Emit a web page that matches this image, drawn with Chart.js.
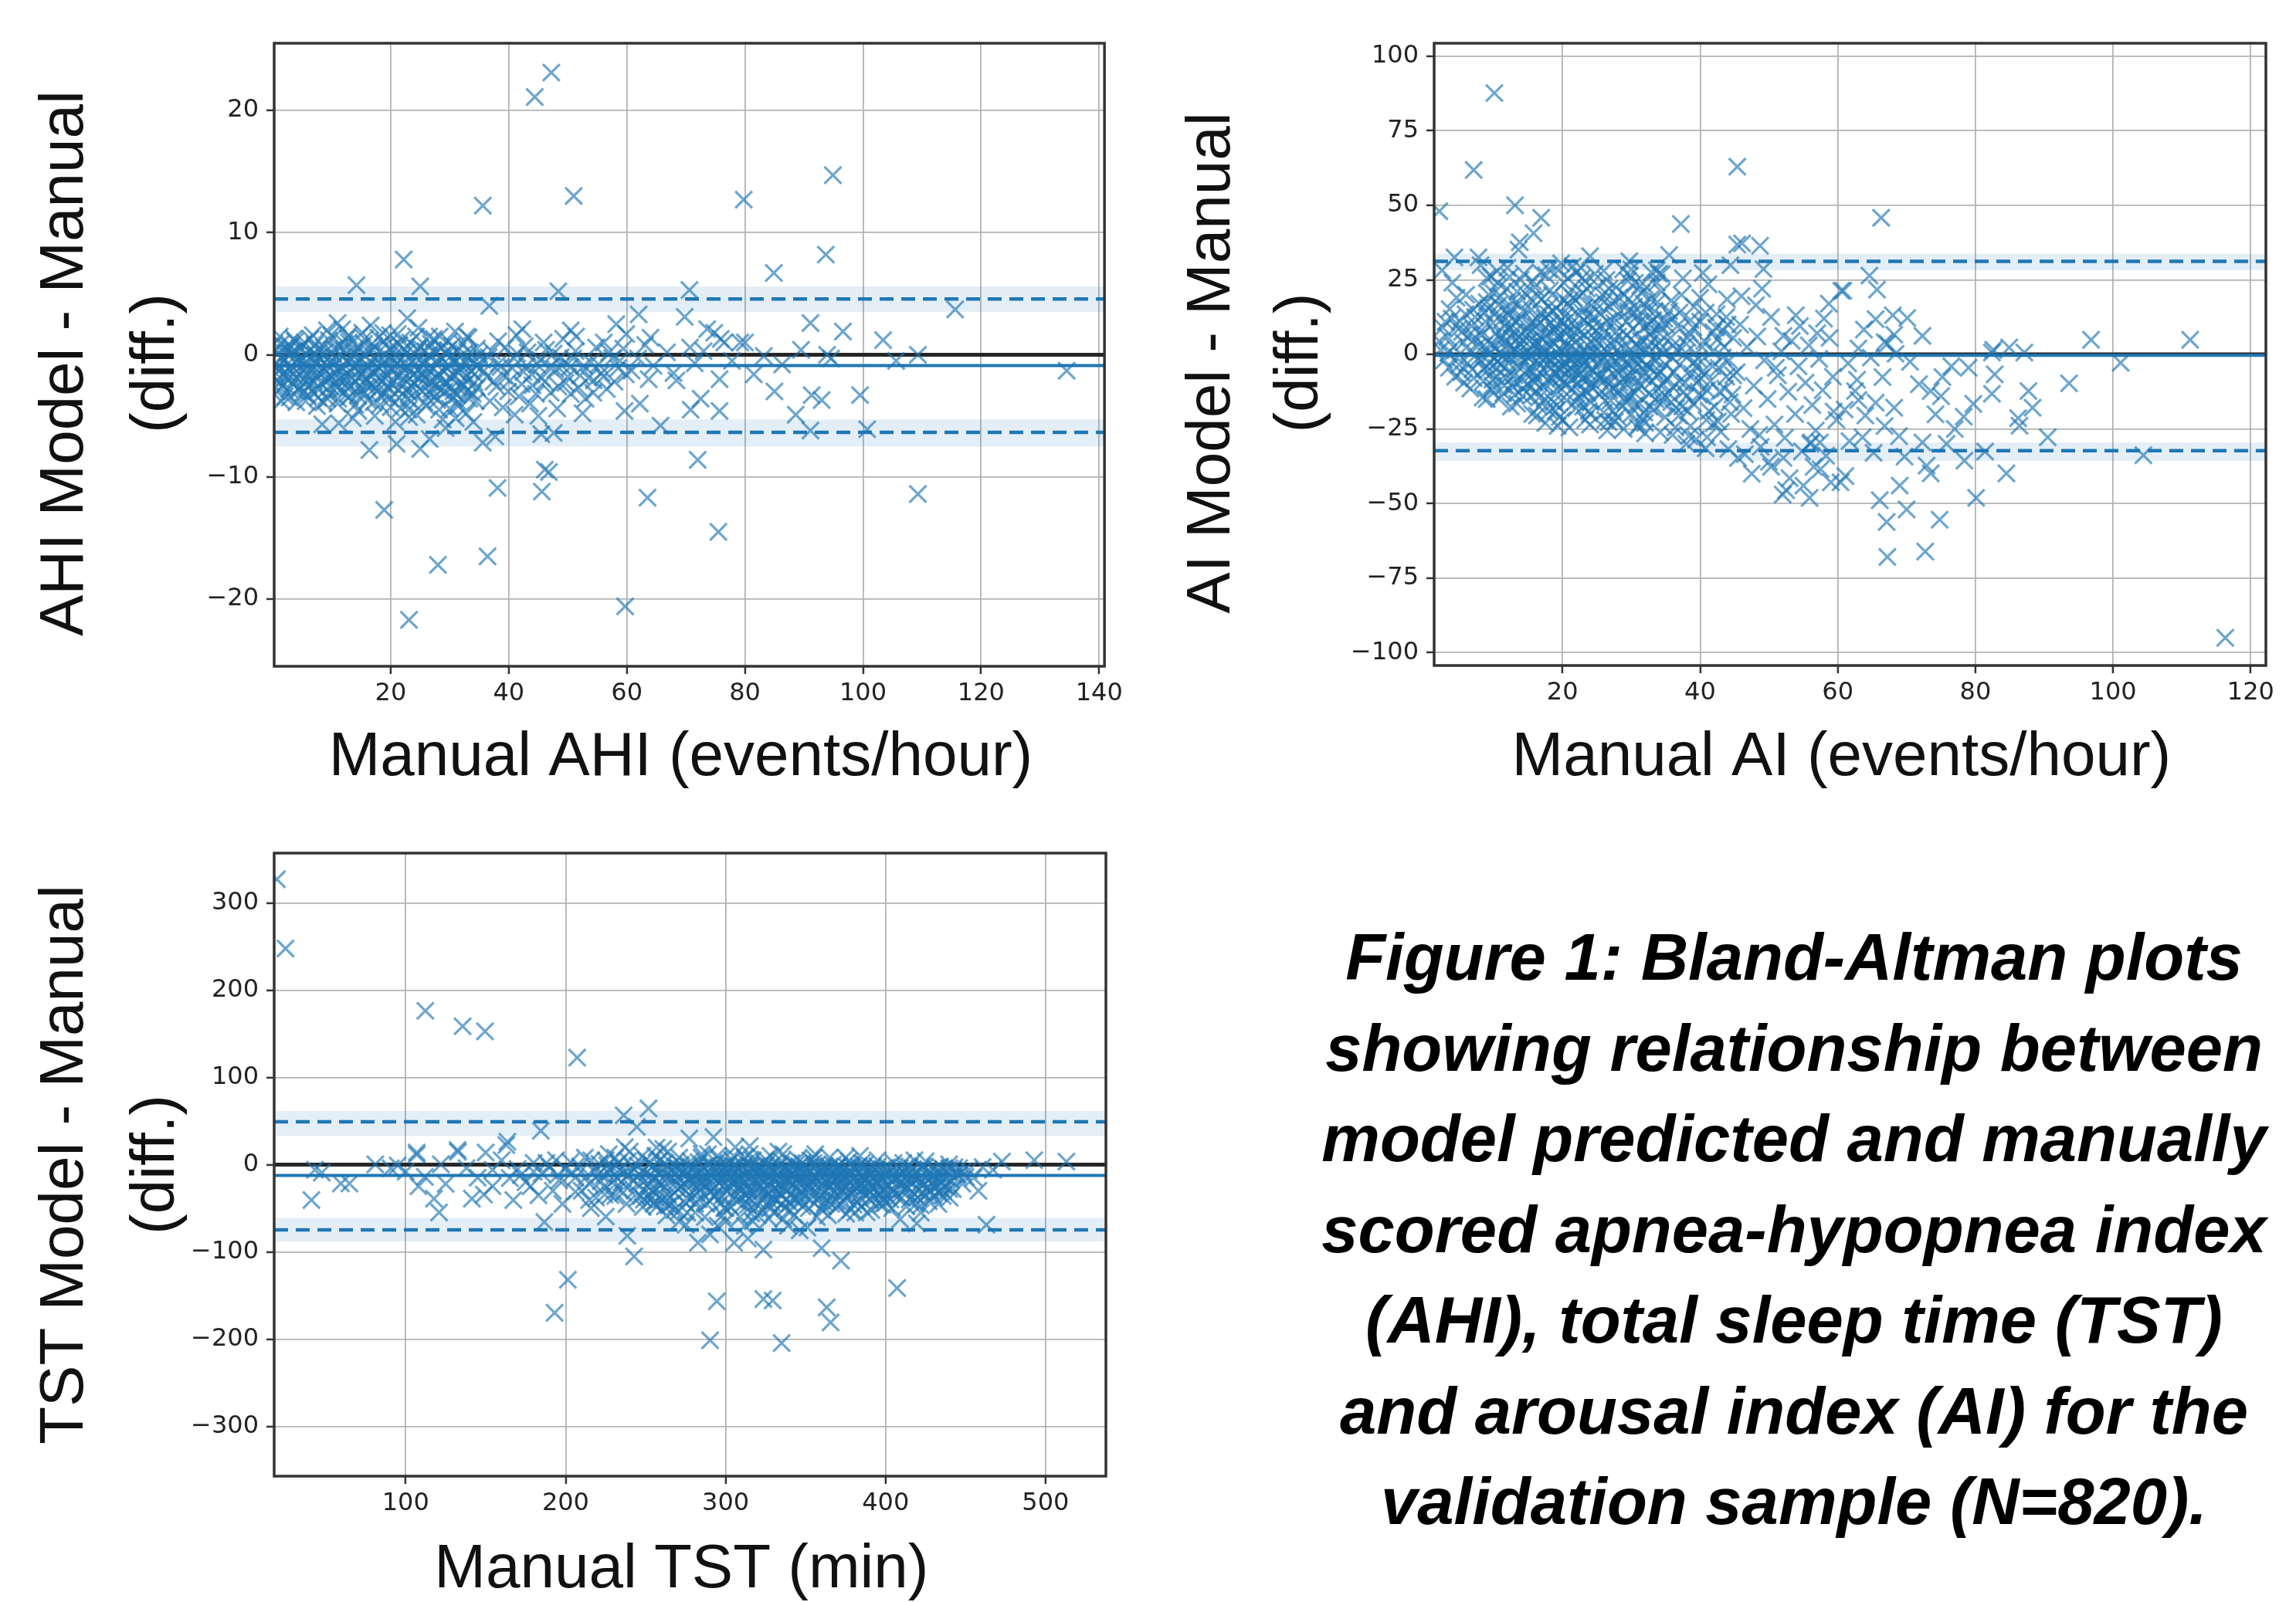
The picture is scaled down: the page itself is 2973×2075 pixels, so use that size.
<!DOCTYPE html>
<html>
<head>
<meta charset="utf-8">
<script src="https://cdn.jsdelivr.net/npm/chart.js@4.4.1/dist/chart.umd.min.js"></script>
<style>
  html, body { margin: 0; padding: 0; background: #fff; overflow: hidden; }
  body { width: 2973px; height: 2075px; position: relative; }
  .panel { position: absolute; }
  #caption {
    position: absolute; left: 1673px; top: 1181px; width: 1300px;
    text-align: center; color: #000;
    font: italic bold 85px/117.5px "Liberation Sans", Arial, sans-serif;
  }
</style>
</head>
<body>
<div class="panel" style="left:0;top:0;width:1460px;height:1050px"><canvas id="ahi"></canvas></div>
<div class="panel" style="left:1460px;top:0;width:1513px;height:1050px"><canvas id="ai"></canvas></div>
<div class="panel" style="left:0;top:1050px;width:1460px;height:1025px"><canvas id="tst"></canvas></div>
<div id="caption">Figure 1: Bland-Altman plots<br>showing relationship between<br>model predicted and manually<br>scored apnea-hypopnea index<br>(AHI), total sleep time (TST)<br>and arousal index (AI) for the<br>validation sample (N=820).</div>
<script>
// ---- AHI panel ----
const ahiXTicks = [20, 40, 60, 80, 100, 120, 140];
const ahiYTicks = [-20, -10, 0, 10, 20];
const ahiXRange = [0.26, 140.9];
const ahiYRange = [-25.5, 25.5];
const ahiLimits = [-6.35, -0.88, 4.56];      // lower LoA, mean diff, upper LoA
const ahiBands = [[-7.5, -5.3], [3.5, 5.6]];
const ahiPoints = [
  [47.2,23.1],[44.4,21.1],[35.6,12.2],[51.0,13.0],[79.8,12.7],[94.9,14.7],[22.2,7.8],[14.2,5.7],[25.0,5.6],[48.4,5.2],
  [70.6,5.3],[84.9,6.7],[93.7,8.2],[36.7,4.0],[115.6,3.7],[11.0,2.6],[22.8,3.0],[12.9,1.6],[19.9,1.6],[26.5,1.5],
  [33.2,1.4],[42.3,2.1],[50.5,2.0],[51.4,1.5],[58.2,2.5],[62.0,3.3],[59.9,1.7],[64.0,1.4],[69.8,3.1],[73.6,2.1],
  [74.8,1.8],[80.0,1.0],[76.5,1.0],[70.7,0.6],[42.7,0.7],[63.1,0.8],[91.1,2.6],[96.6,1.9],[103.4,1.2],[75.9,1.3],
  [79.2,1.0],[83.2,-0.1],[109.3,0],[93.9,0],[94.6,-0.3],[105.6,-0.5],[134.5,-1.3],[75.7,-2.0],[85.0,-3.0],[91.3,-3.3],
  [93.0,-3.7],[99.5,-3.3],[88.6,-4.9],[91.1,-6.2],[100.7,-6.1],[75.7,-4.6],[72.0,-8.6],[109.3,-11.4],[75.5,-14.5],[8.4,-5.7],
  [11.2,-5.6],[16.4,-7.8],[21.0,-7.3],[25.0,-7.7],[26.6,-6.9],[23.1,-5.1],[35.6,-7.2],[37.7,-6.7],[41.0,-4.9],[45.5,-6.5],
  [47.6,-6.4],[46.1,-9.4],[46.8,-9.6],[45.6,-11.2],[38.1,-10.9],[18.9,-12.7],[28.0,-17.2],[36.4,-16.5],[23.1,-21.7],[59.7,-20.6],
  [63.5,-11.7],[59.6,-4.6],[62.2,-4.0],[65.7,-5.8],[70.8,-4.5],[72.5,-3.6],[50.5,-3.2],[54.4,-2.1],[68.4,-2.1],[63.7,-2.0],
  [0.6,0.4],[1.4,0.9],[2.3,0.2],[3.1,0.7],[3.9,-0.1],[4.6,0.5],[5.4,1.0],[6.2,0.3],[7.1,0.8],[7.8,-0.2],
  [8.7,0.6],[9.5,1.2],[10.3,0.1],[11.2,0.7],[12.1,0.4],[12.9,1.0],[13.8,-0.1],[14.6,0.6],[15.5,0.9],[16.3,0.2],
  [17.2,0.7],[18.1,0.3],[18.9,1.1],[19.8,0.5],[20.7,0.0],[21.5,0.8],[22.4,0.4],[23.3,1.0],[24.1,0.1],[25.0,0.6],
  [25.9,0.3],[26.8,0.9],[27.7,0.2],[28.6,0.6],[29.5,0.0],[30.4,0.7],[31.3,0.3],[32.2,0.9],[33.4,0.2],[34.6,0.5],
  [0.4,-0.7],[1.1,-1.3],[1.9,-0.5],[2.7,-1.1],[3.5,-1.6],[4.2,-0.8],[5.0,-1.4],[5.8,-0.6],[6.6,-1.2],[7.4,-1.7],
  [8.2,-0.9],[9.0,-1.3],[9.9,-0.6],[10.7,-1.5],[11.6,-1.0],[12.5,-0.5],[13.3,-1.4],[14.2,-0.8],[15.1,-1.6],[15.9,-1.1],
  [16.8,-0.6],[17.6,-1.3],[18.5,-0.9],[19.4,-1.7],[20.2,-1.2],[21.1,-0.7],[22.0,-1.5],[22.8,-1.0],[23.7,-0.5],[24.6,-1.3],
  [25.5,-0.8],[26.3,-1.6],[27.2,-1.1],[28.1,-0.6],[29.0,-1.4],[29.9,-0.9],[30.8,-1.7],[31.7,-1.1],[32.6,-0.6],[33.6,-1.3],
  [34.7,-0.9],[0.8,-2.1],[1.7,-2.6],[2.6,-1.9],[3.4,-2.4],[4.4,-2.9],[5.3,-2.0],[6.1,-2.5],[7.0,-2.2],[7.9,-2.8],
  [8.9,-2.0],[9.7,-2.6],[10.6,-2.3],[11.5,-2.9],[12.4,-2.1],[13.2,-2.6],[14.1,-2.2],[15.0,-2.8],[15.8,-2.0],[16.7,-2.5],
  [17.7,-3.0],[18.6,-2.2],[19.5,-2.7],[20.4,-2.1],[21.3,-2.9],[22.2,-2.4],[23.1,-3.1],[24.0,-2.3],[24.9,-2.8],[25.8,-2.0],
  [26.7,-3.2],[27.6,-2.5],[28.5,-2.9],[29.4,-2.2],[30.3,-2.7],[31.2,-3.3],[32.1,-2.4],[33.1,-2.9],[34.2,-2.3],
  [2.1,-3.4],[4.0,-3.9],[5.9,-3.3],[7.5,-4.2],[9.3,-3.6],[11.0,-4.0],[12.8,-3.5],[14.5,-4.6],[16.1,-3.7],[17.3,-5.0],
  [18.2,-4.1],[19.9,-3.6],[21.7,-4.4],[23.5,-3.8],[24.4,-4.9],[26.0,-4.2],[27.9,-3.7],[28.8,-5.3],[30.0,-4.4],[31.5,-3.9],
  [32.8,-4.8],[34.0,-5.5],[13.6,-5.2],[20.8,-5.5],[29.3,-6.0],[31.0,-5.2],
  [1.2,1.5],[3.6,1.3],[6.8,1.6],[9.2,2.0],[15.2,1.8],[17.9,1.4],[21.2,1.7],[24.7,2.2],[28.3,1.5],[30.9,1.9],[16.6,2.4],[11.8,2.1],
  [35.5,-0.4],[36.3,-1.8],[37.1,0.3],[37.9,-2.6],[38.6,-1.0],[39.4,0.6],[40.2,-2.1],[40.9,-0.3],[41.7,-3.4],[42.5,-1.4],
  [43.2,0.2],[44.0,-2.5],[44.8,-0.8],[45.6,-1.9],[46.3,0.4],[47.1,-3.1],[47.9,-1.2],[48.8,-0.2],[49.6,-2.3],[50.4,-1.0],
  [51.3,0.3],[52.1,-1.7],[53.0,-3.6],[53.9,-0.6],[54.8,0.6],[55.7,-1.5],[56.6,-2.8],[57.5,-0.3],[58.5,-1.1],[59.4,0.5],
  [36.8,-3.8],[39.0,-4.3],[43.6,-4.0],[45.0,-5.0],[48.2,-4.4],[52.5,-4.8],[38.2,1.1],[41.3,1.6],[45.9,1.0],[49.2,1.3],[56.1,1.0],
  [60.8,-1.3],[61.9,-0.3],[64.5,-0.9],[66.8,0.2],[67.9,-1.5],[71.5,-0.7],[73.0,0.3],[77.8,-0.5],[81.5,-1.6],[86.3,-0.8],[89.5,0.4],
  [0.5,-1.5],[0.9,0.1],[1.3,-2.3],[1.6,-0.3],[2.0,-1.8],[2.4,0.6],[2.8,-2.8],[3.2,-0.9],[3.6,0.3],[4.0,-1.9],
  [4.3,-0.4],[4.7,-2.6],[5.1,0.8],[5.5,-1.1],[5.9,-2.1],[6.3,-0.2],[6.7,-3.0],[7.2,-0.7],[7.6,0.4],[8.0,-1.5],
  [8.4,-2.4],[8.8,0.2],[9.2,-0.8],[9.6,-3.1],[10.0,-1.8],[10.4,0.5],[10.8,-0.3],[11.3,-2.0],[11.7,-1.3],[12.2,0.9],
  [12.6,-2.7],[13.0,-0.6],[13.5,-1.9],[13.9,0.3],[14.4,-3.3],[14.8,-1.2],[15.2,0.1],[15.7,-2.3],[16.1,-0.9],[16.5,-1.7],
  [17.0,0.4],[17.4,-2.7],[17.9,-0.4],[18.3,-1.9],[18.8,-3.2],[19.2,0.0],[19.6,-1.0],[20.1,-2.4],[20.5,0.7],[21.0,-1.6],
  [21.4,-3.5],[21.9,-0.3],[22.3,-2.0],[22.7,0.2],[23.2,-1.4],[23.6,-2.6],[24.0,-0.8],[24.5,0.5],[24.9,-1.9],[25.4,-3.0],
  [25.8,-0.5],[26.2,-1.2],[26.7,-2.2],[27.1,0.3],[27.5,-3.4],[28.0,-1.6],[28.4,-0.2],[28.9,-2.3],[29.3,-1.0],[29.7,0.4],
  [30.2,-1.9],[30.6,-3.0],[31.0,-0.5],[31.5,-1.5],[31.9,-2.6],[32.4,0.1],[32.8,-1.8],[33.3,-3.6],[33.7,-0.4],[34.2,-1.6],
  [34.6,-2.7],[35.0,0.0],[0.7,-3.0],[1.5,-3.8],[2.9,-3.5],[3.8,1.1],[5.6,-3.8],[6.4,1.3],[8.6,-3.9],[9.9,1.6],
  [11.1,-3.6],[12.7,1.4],[14.0,-4.1],[15.6,1.3],[17.1,-3.9],[18.7,1.8],[20.0,-4.3],[21.8,1.2],[23.0,-4.5],[24.3,1.5],
  [25.7,-3.9],[27.3,1.3],[28.2,-4.5],[29.8,1.1],[31.4,-4.2],[32.9,1.5],[34.4,-3.8],[0.3,0.9],[1.0,-0.9],[2.2,-1.4],
  [3.0,0.1],[4.9,-0.5],[6.0,-1.6],[7.3,0.0],[8.1,-0.4],[9.4,-1.9],[10.2,-0.9],[11.9,-0.2],[12.3,-1.8],[13.6,-1.0],
  [14.9,-0.3],[16.0,-2.6],[16.9,-1.4],[18.0,-1.1],[19.0,-0.5],[20.3,-0.4],[21.6,-0.9],[22.6,-2.9],[23.9,-1.6],[25.2,-1.5],
  [26.5,-0.1],[27.9,-1.9],[29.1,-3.0],[30.0,-0.2],[31.8,-0.8],[33.0,-2.2],[34.0,-0.7],[5.2,-3.1],[7.7,-3.5],[10.9,-2.7],
  [13.1,-3.4],[15.4,-3.2],[19.3,-3.1],[22.9,-3.6],[26.9,-2.8],[30.5,-3.5],[33.9,-3.2],
  [35.8,-1.3],[36.6,-0.2],[37.4,-2.2],[38.3,-0.7],[39.1,-1.7],[39.9,-3.0],[40.6,-1.1],[41.4,0.1],[42.2,-2.4],[43.0,-0.9],
  [43.9,-1.6],[44.6,-3.2],[45.3,-0.4],[46.1,-2.2],[46.9,-1.0],[47.6,0.1],[48.4,-2.6],[49.0,-0.9],[50.0,-1.8],[50.9,-0.3],
  [51.8,-2.7],[52.7,-0.9],[53.5,-1.9],[54.3,-3.1],[55.2,-0.8],[56.0,-1.8],[57.0,0.2],[57.9,-2.2],[58.8,-0.5],[59.8,-1.6]
];

// ---- AI panel ----
const aiXTicks = [20, 40, 60, 80, 100, 120];
const aiYTicks = [-100, -75, -50, -25, 0, 25, 50, 75, 100];
const aiXRange = [1.35, 122.2];
const aiYRange = [-104.3, 104.3];
const aiLimits = [-32.3, -0.3, 31.2];
const aiBands = [[-35.7, -29.6], [28.2, 33.8]];
const aiPoints = [
  [10.1,87.6],[7.1,61.8],[45.4,62.9],[2.1,48.0],[13.1,50.0],[16.9,45.8],[15.8,40.6],[13.8,37.6],[13.6,35.1],[37.2,43.7],
  [45.4,36.8],[46.1,37.2],[48.7,36.4],[35.5,33.3],[24.0,32.9],[7.8,32.5],[4.3,32.5],[2.5,28.2],[8.1,29.9],[9.0,25.6],
  [49.2,28.6],[44.4,29.9],[29.7,31.2],[33.7,28.2],[40.4,27.3],[60.5,21.3],[58.7,17.0],[48.1,16.5],[53.9,13.1],[52.1,6.2],
  [57.0,7.1],[3.6,15.2],[3.0,10.9],[5.4,7.5],[2.1,4.5],[12.3,26.0],[19.4,28.2],[23.3,24.7],[29.5,24.7],[31.3,23.0],[34.4,26.9],
  [55.9,-48.1],[52.5,-45.5],[50.3,-37.7],[45.5,-34.7],[52.1,-34.7],[56.5,-37.7],[59.0,-42.9],[44.1,-31.7],[38.4,-27.4],[34.2,-26.1],
  [30.9,-24.4],[26.7,-22.7],[41.0,-27.8],[56.1,-29.5],[57.4,-29.5],[48.6,-27.0],[59.4,-19.2],
  [96.8,4.9],[111.2,4.9],[101.1,-2.8],[93.6,-9.7],[87.7,-12.3],[88.3,-17.9],[86.2,-21.4],[86.4,-23.9],[90.5,-27.8],[82.4,-13.2],
  [82.8,-6.7],[84.9,2.3],[87.1,0.6],[82.4,0.6],[104.4,-33.8],[116.3,-95.0],[81.4,-32.6],[80.1,-48.1],[84.5,-39.9],[78.4,-35.6],
  [79.7,-16.6],[78.3,-20.9],[75.2,-7.6],[75.0,-14.0],[74.2,-20.1],[73.5,-12.3],[72.3,-29.5],[72.9,-37.3],[73.5,-39.9],[74.8,-55.4],
  [72.7,-66.1],[67.2,-67.9],[67.1,-56.2],[66.1,-48.9],[69.7,-34.3],[68.9,-27.4],[68.2,-17.9],[66.5,-7.6],[65.5,-16.2],[63.6,-27.8],
  [61.7,-29.1],[63.0,-15.3],[62.5,-12.3],[61.1,-40.8],[60.4,-42.9],[64.8,-1.1],[68.4,0.2],[72.3,6.2],[66.8,4.1],[68.2,6.6],
  [66.3,45.8],[64.6,26.4],[65.7,21.7],[60.8,21.3],[65.5,11.8],[68.0,13.1],[70.1,12.2],[63.8,8.3],[67.2,3.6],[82.6,1.5],
  [2.3,1.5],[2.8,-2.0],[3.2,6.0],[3.5,-4.5],[3.9,12.0],[4.2,2.5],[4.6,-1.0],[4.9,8.5],[5.3,-6.0],[5.6,4.0],
  [5.9,13.5],[6.2,-3.0],[6.5,1.0],[6.8,9.5],[7.1,-8.0],[7.4,5.5],[7.7,-1.5],[7.9,17.0],[2.6,9.0],[3.4,0.5],
  [4.4,-7.5],[5.1,11.0],[6.0,20.0],[6.9,-5.0],[7.6,2.5],[5.7,-9.5],[4.0,24.0],[7.3,12.5],
  [8.1,-2.0],[8.3,6.5],[8.5,-9.0],[8.7,14.0],[8.9,1.0],[9.1,-5.5],[9.3,20.0],[9.5,3.5],[9.7,-12.0],[9.9,10.5],
  [10.1,-1.0],[10.3,7.0],[10.5,-7.5],[10.7,16.5],[10.9,0.5],[11.1,-3.5],[11.3,12.0],[11.5,-10.5],[11.7,4.5],[11.9,22.0],
  [12.1,-6.0],[12.3,8.5],[12.5,-1.5],[12.7,18.0],[12.9,2.0],[13.1,-13.5],[13.3,11.0],[13.5,-4.0],[13.7,6.0],[13.9,25.0],
  [14.1,-8.5],[14.3,14.5],[14.5,0.0],[14.7,-2.5],[14.9,9.0],[8.4,-14.5],[9.6,26.0],[10.8,-15.0],[12.0,29.0],[13.4,-16.5],
  [14.6,20.5],[8.8,11.0],[10.2,2.5],[11.4,-0.5],[12.6,5.5],[13.8,-0.5],[9.4,-3.0],[11.0,19.5],[12.2,13.0],[14.0,3.5],
  [13.0,-9.5],[10.6,24.0],[11.8,-8.0],
  [15.1,-5.0],[15.2,7.5],[15.4,-14.0],[15.5,15.0],[15.7,1.5],[15.8,-9.0],[16.0,22.5],[16.1,4.0],[16.3,-2.0],[16.4,11.5],
  [16.6,-17.5],[16.7,6.0],[16.9,-6.5],[17.0,18.5],[17.2,0.5],[17.3,-11.0],[17.5,9.0],[17.6,26.5],[17.8,-3.5],[17.9,13.5],
  [18.1,-19.0],[18.2,3.0],[18.4,-8.0],[18.5,20.0],[18.7,-0.5],[18.8,8.0],[19.0,-13.5],[19.1,15.5],[19.3,-4.5],[19.4,5.5],
  [19.6,-21.0],[19.7,11.0],[19.9,1.0],[20.0,-9.5],[20.2,24.0],[20.3,-2.5],[20.5,7.0],[20.6,-15.5],[20.8,17.0],[20.9,-6.0],
  [21.1,2.5],[21.2,12.5],[21.4,-11.5],[21.5,29.5],[21.7,-1.0],[21.8,9.5],[22.0,-18.0],[22.1,4.5],[22.3,-7.0],[22.4,19.5],
  [22.6,0.0],[22.7,-13.0],[22.9,14.0],[23.0,-3.0],[23.2,6.5],[23.3,-22.0],[23.5,22.0],[23.6,-8.5],[23.8,10.0],[23.9,-0.5],
  [24.1,-16.0],[24.2,16.5],[24.4,3.5],[24.5,-5.5],[24.7,27.0],[24.8,-10.5],[15.3,-0.5],[15.9,3.0],[16.5,-3.0],[17.1,5.0],
  [17.7,-1.0],[18.3,10.5],[18.9,-6.5],[19.5,2.0],[20.1,-4.0],[20.7,9.0],[21.3,-8.5],[21.9,1.5],[22.5,-4.5],[23.1,11.5],
  [23.7,3.0],[24.3,-2.0],[24.9,8.0],[16.2,-12.5],[17.4,-15.0],[19.2,-17.0],[20.4,13.0],[21.6,-3.5],[22.2,-10.0],[23.4,-12.0],
  [24.6,5.5],[16.8,27.5],[19.8,30.5],[22.8,25.5],[18.0,16.0],[20.9,20.5],[23.8,-19.0],[15.6,-20.0],[17.5,-23.0],[21.0,-24.5],
  [24.0,-23.5],[18.6,-9.0],[19.9,-1.5],[21.4,5.0],[22.9,-2.0],
  [25.1,-7.0],[25.2,4.0],[25.4,-13.5],[25.5,13.5],[25.7,-1.5],[25.8,20.0],[26.0,-19.5],[26.1,7.5],[26.3,-4.0],[26.4,25.0],
  [26.6,0.5],[26.7,-10.0],[26.9,16.0],[27.0,-15.5],[27.2,3.0],[27.3,-6.5],[27.5,10.5],[27.6,-22.5],[27.8,22.5],[27.9,-2.5],
  [28.1,6.0],[28.2,-12.0],[28.4,14.5],[28.5,-0.5],[28.7,-17.5],[28.8,28.5],[29.0,2.0],[29.1,-8.0],[29.3,11.0],[29.4,-3.5],
  [29.6,18.5],[29.7,-14.0],[29.9,5.0],[30.0,-20.0],[30.2,8.5],[30.3,-5.0],[30.5,24.0],[30.6,0.0],[30.8,-11.0],[30.9,13.0],
  [31.1,-1.5],[31.2,-16.5],[31.4,4.5],[31.5,20.5],[31.7,-7.5],[31.8,9.0],[32.0,-23.0],[32.1,1.5],[32.3,15.5],[32.4,-4.0],
  [32.6,-13.0],[32.7,6.5],[32.9,27.5],[33.0,-9.0],[33.2,11.5],[33.3,-18.5],[33.5,2.5],[33.6,-2.0],[33.8,17.5],[33.9,-11.5],
  [34.1,7.0],[34.2,-6.0],[34.4,21.0],[34.5,-14.5],[34.7,0.5],[34.8,12.0],[25.6,9.5],[26.2,-8.5],[27.4,18.0],[28.0,-6.0],
  [28.9,-25.0],[29.5,-10.0],[30.4,16.0],[31.0,-3.0],[31.9,-19.5],[32.5,10.0],[33.4,-5.5],[34.0,4.0],[34.9,-21.0],[26.5,-25.5],
  [29.8,26.5],[32.2,22.5],[27.1,-1.0],[30.7,3.5],
  [35.2,-8.0],[35.5,14.5],[35.8,-16.0],[36.1,3.0],[36.4,-24.5],[36.7,9.5],[37.0,-3.5],[37.3,20.0],[37.6,-12.5],[37.9,0.5],
  [38.2,-19.0],[38.5,7.0],[38.8,-6.5],[39.1,16.0],[39.4,-28.5],[39.7,-1.5],[40.0,11.0],[40.3,-14.0],[40.6,4.5],[40.9,-22.0],
  [41.2,23.5],[41.5,-9.0],[41.8,1.0],[42.1,-17.5],[42.4,13.5],[42.7,-4.5],[43.0,-26.0],[43.3,8.0],[43.6,-11.5],[43.9,18.5],
  [44.2,-2.0],[44.5,-20.0],[44.8,5.5],[36.0,-11.0],[37.5,25.5],[38.0,-30.0],[39.5,-9.5],[40.8,-31.5],[42.0,-23.0],[43.5,2.5],
  [44.7,-13.5],[35.7,5.5],[38.9,-3.0],[41.9,7.5],[36.9,-20.5],[40.5,-5.5],[43.8,-7.5],
  [45.3,-6.0],[45.8,10.0],[46.3,-18.0],[46.8,2.5],[47.3,-25.0],[47.8,-10.5],[48.3,6.0],[48.8,-31.0],[49.3,-2.0],[49.8,-15.0],
  [50.3,12.5],[50.8,-23.5],[51.3,-7.0],[51.8,1.0],[52.3,-28.0],[52.8,-12.5],[53.3,4.5],[53.8,-20.0],[54.3,-4.0],[54.8,-32.5],
  [55.3,-9.5],[55.8,3.0],[56.3,-17.0],[56.8,-25.5],[57.3,-1.5],[57.8,-12.0],[58.3,-34.0],[58.8,5.5],[59.3,-7.5],[59.8,-22.0],
  [46.0,19.5],[47.5,-40.0],[50.0,-36.0],[53.0,-41.5],[55.0,-44.0],[57.5,-38.5],[49.0,22.0],[54.5,9.5],[58.0,12.0],[52.0,-47.0],
  [46.5,-33.5],[51.0,-4.5],[56.0,-30.0],
  [61.5,-3.0],[62.8,-8.5],[64.0,-20.5],[65.2,-33.0],[66.8,-24.0],[70.5,-2.5],[71.8,-10.0],[76.5,-4.0],[77.0,-25.0],[69.0,-44.0],
  [63.0,2.0],[70.0,-52.0],[61.0,-18.5],[75.8,-30.0],[79.0,-4.5],
  [9.2,15.5],[10.4,-4.5],[11.6,9.5],[12.8,-11.0],[13.6,17.0],[14.8,-5.5],[15.4,10.5],[16.1,-7.5],[16.9,14.0],[17.6,-1.5],
  [18.2,21.5],[18.9,3.5],[19.6,-11.0],[20.3,18.0],[21.0,-5.0],[21.7,7.5],[22.4,-14.5],[23.1,15.5],[23.9,-6.5],[24.6,12.5],
  [25.3,-3.0],[26.0,17.5],[26.8,-12.0],[27.5,5.0],[28.3,-9.5],[29.0,20.0],[29.8,-1.0],[30.5,-13.0],[31.3,11.0],[32.0,-6.0],
  [32.8,18.5],[33.5,-15.0],[34.3,9.5],[35.0,-3.5],[36.0,12.0],[37.0,-9.0],[38.0,3.5],[39.0,-16.5],[40.0,19.0],[12.4,15.0],
  [14.2,-14.0],[16.4,19.5],[18.7,-16.0],[20.8,25.5],[23.0,-17.5],[25.2,23.0],[27.3,-19.0],[29.5,14.5],[31.6,-21.5],[33.7,24.0],
  [10.0,20.5],[8.6,3.0],[9.8,-8.5],[11.2,6.5],[13.2,1.5],[15.0,-10.0],[17.2,2.0],[19.0,9.0],[21.2,-1.5],[23.5,0.5],
  [25.8,-6.5],[28.0,1.5],[30.2,-7.0],[32.4,3.0],[34.6,-10.0],[15.7,24.5],[19.3,-24.0],[22.7,29.0],[26.2,-22.0],[29.2,-16.0],
  [36.5,-18.0],[38.6,11.5],[41.0,-12.0],[42.5,5.0],[44.0,10.0],
  [8.2,8.0],[8.6,-5.0],[9.0,17.5],[9.4,0.0],[9.8,-10.5],[10.2,13.5],[10.6,-2.5],[11.0,5.0],[11.4,-13.0],[11.8,15.0],
  [12.2,-3.0],[12.6,10.0],[13.0,-7.0],[13.4,21.0],[13.8,3.5],[14.2,-11.5],[14.6,7.5],[15.0,-1.0],[15.4,18.5],[15.8,-6.0],
  [16.2,9.5],[16.6,-14.5],[17.0,2.5],[17.4,12.0],[17.8,-8.5],[18.2,-2.0],[18.6,14.5],[19.0,-19.0],[19.4,6.5],[19.8,-5.0],
  [20.2,10.5],[20.6,-10.0],[21.0,16.0],[21.4,-0.5],[21.8,-16.0],[22.2,8.0],[22.6,-6.5],[23.0,20.5],[23.4,-2.5],[23.8,13.0],
  [24.2,-11.0],[24.6,0.5],[25.0,17.0],[25.4,-8.0],[25.8,4.5],[26.2,-15.5],[26.6,11.0],[27.0,-3.5],[27.4,-11.5],[27.8,7.5],
  [28.2,19.0],[28.6,-5.5],[29.0,-14.5],[29.4,6.5],[29.8,-7.5],[30.2,14.0],[30.6,-17.0],[31.0,2.5],[31.4,-10.5],[31.8,17.0],
  [32.2,-3.5],[32.6,-17.5],[33.0,7.5],[33.4,14.5],[33.8,-7.0],[34.2,1.5],[34.6,-16.0],[35.0,10.0],[35.4,-13.0],[35.8,18.0],
  [36.2,-6.0],[36.6,1.5],[37.0,14.0],[37.4,-17.5],[37.8,-9.5],[38.2,5.5],[38.6,-24.0],[39.0,9.0],[39.4,-4.0],[39.8,-13.5],
  [40.3,2.5],[40.8,14.0],[41.3,-19.0],[41.8,-4.0],[42.3,9.0],[42.8,-12.5],[43.3,-1.0],[43.8,12.5],[44.3,-16.0],[44.8,-7.0],
  [9.0,-15.0],[10.5,28.0],[12.5,-17.5],[14.4,27.0],[16.3,-20.5],[18.0,28.5],[20.0,-22.0],[22.0,27.5],[24.0,-20.0],[26.0,28.0],
  [28.0,-21.0],[30.0,28.5],[32.0,-26.5],[34.0,27.0],[36.0,-27.0],[13.0,7.5],[15.2,4.5],[17.8,7.0],[20.5,3.0],[22.8,-8.0],
  [25.5,0.5],[27.6,12.0],[30.4,-2.0],[33.1,-1.5],[35.9,-1.0],[18.4,-4.5],[21.5,19.0],[26.8,22.0],[31.1,-23.5],[23.6,-13.0],
  [11.9,1.5],[14.0,12.5],[16.0,-9.5],[19.7,-8.0],[24.4,9.0],[28.8,-1.5],[32.9,11.0],[38.0,-14.0],[40.1,-8.0],[42.6,-22.5],
  [6.4,6.5],[5.0,-3.5],[7.0,15.0],[4.6,19.0],[6.6,-11.5]
];

// ---- TST panel ----
const tstXTicks = [100, 200, 300, 400, 500];
const tstYTicks = [-300, -200, -100, 0, 100, 200, 300];
const tstXRange = [17.8, 537.7];
const tstYRange = [-357, 357];
const tstLimits = [-74.7, -12.3, 49.2];
const tstBands = [[-88, -61], [33, 61.5]];
const tstPoints = [
  [19.5,327],[24.9,247.7],[112.3,176.3],[135.6,158.6],[149.6,152.7],[207.2,122.7],[251.8,64.4],[236.3,56.5],[244.5,43.2],[184.5,38.8],
  [163.6,26.2],[277.3,30.0],[292.4,31.5],[315,21.2],[106.9,13.9],[132.4,16.8],[150,13.9],[256.8,19.7],
  [41.1,-40.6],[43.3,-5.9],[47.6,-9.1],[59.5,-21.7],[64.8,-21.7],[81.0,0.4],[90.7,-4.3],[106.9,11.5],[108.0,-24.8],[117.7,-39.0],
  [120.9,-54.7],[122.0,0.4],[132.7,14.6],[141.4,-39.0],[148.9,-34.3],[154.3,-24.8],[162.9,22.4],[167.3,-40.6],[154.3,-5.9],[165.1,-15.4],
  [186.7,-65.8],[201.4,-132.0],[193.1,-169.8],[238.5,-81.6],[242.8,-105.2],[225.1,-59.5],[215.8,-50.0],[248.2,-48.5],[290.3,-201.3],[294.5,-156.6],
  [323.6,-154.1],[282.7,-89.5],[290.2,-80.0],[305.3,-89.5],[313.9,-84.7],[323.6,-97.4],[275.1,-68.9],[206.1,-31.2],[214.7,-40.6],[224.4,-34.3],
  [247.1,-35.9],[255.7,-42.2],[264.3,-46.9],[270.8,-53.2],
  [335.0,-204.5],[363.2,-163.5],[365.6,-180.8],[407.2,-141.5],[360.0,-95.8],[372.1,-110.0],[329.4,-155.7],[463.0,-68.9],[419.5,-67.4],[409.1,-62.7],
  [422.0,-46.9],[439.7,-28.0],[435.7,-35.9],[375.3,-56.4],[388.2,-54.7],[346.3,-75.3],[351.1,-72.1],[472.7,3.5],[492.9,5.1],[513.0,3.5],
  [467.1,-5.9],[460.6,-2.8],[439.7,0.4],
  [95,-1],[100,-8],[112,-14],[125,-22],[138,-4],[145,-15],[160,5],[175,-20],[180,-8],[190,-3],[195,-12],[180,2],
  [170,-5],[178,-25],[185,-10],[188,2],[192,-30],[196,-18],[198,-45],[183,-35],[172,-12],[194,5],
  [200,-5],[203,3],[206,-15],[209,-2],[212,8],[215,-22],[218,-8],[221,1],[224,-12],[227,12],
  [230,-4],[233,-28],[236,-10],[239,4],[242,-18],[245,-1],[248,10],[251,-25],[204,-9],[210,-30],
  [216,5],[222,-19],[228,-35],[234,-6],[240,15],[246,-12],[249,-40],[213,-14],[226,-1],[238,-45],
  [243,-30],[219,-38],[231,8],[237,20],[232,-15],
  [251,-8],[253,2],[255,-16],[257,-28],[259,5],[261,-4],[263,-12],[265,-38],[267,0],[269,-20],
  [271,8],[273,-9],[275,-30],[277,-2],[279,-15],[281,-45],[283,3],[285,-7],[287,-24],[289,12],
  [291,-12],[293,-35],[295,-3],[297,-18],[299,-50],[252,-22],[256,10],[260,-40],[264,15],[268,-32],
  [272,-5],[276,-55],[280,-10],[284,-20],[288,-1],[292,-28],[296,6],[254,-3],[258,-11],[262,-26],
  [266,-6],[270,-14],[274,-22],[278,4],[282,-32],[286,-13],[290,-42],[294,-8],[298,-25],[257,-48],
  [263,-58],[271,-65],[279,-38],[287,-60],[295,-70],[253,-35],[261,18],[269,-2],[277,-18],[285,8],
  [293,-15],[299,-5],[266,-45],[283,-25],[290,0],
  [300,-10],[302,2],[304,-22],[306,-35],[308,-5],[310,-15],[312,8],[314,-28],[316,-2],[318,-18],
  [320,-42],[322,-8],[324,3],[326,-25],[328,-12],[330,-55],[332,-4],[334,-32],[336,12],[338,-16],
  [340,-7],[342,-38],[344,0],[346,-22],[348,-10],[301,-30],[303,-48],[305,10],[307,-20],[309,-60],
  [311,-3],[313,-12],[315,-40],[317,5],[319,-26],[321,-14],[323,-52],[325,-1],[327,-34],[329,-6],
  [331,-20],[333,15],[335,-45],[337,-3],[339,-28],[341,-11],[343,-58],[345,6],[347,-30],[349,-15],
  [300,-65],[306,20],[312,-70],[318,-50],[324,-38],[330,-18],[336,-62],[342,-24],[348,-48],[302,-14],
  [308,-28],[314,-8],[320,-2],[326,-44],[332,-30],[338,-9],[344,-40],[350,-20],[304,5],[310,-38],
  [316,-56],[322,-24],[328,10],[334,-14],[340,-52],[346,-2],[305,-18],[315,-30],[325,-12],[335,-24],
  [345,-16],[311,-45],[321,-5],[331,-40],[341,2],[317,-65],[327,-62],[339,-70],
  [351,-8],[353,-25],[355,2],[357,-15],[359,-35],[361,-4],[363,-20],[365,8],[367,-10],[369,-42],
  [371,-1],[373,-28],[375,-12],[377,4],[379,-32],[381,-6],[383,-18],[385,-48],[387,0],[389,-22],
  [391,-10],[393,-38],[395,5],[397,-15],[399,-28],[352,-50],[356,12],[360,-28],[364,-58],[368,-18],
  [372,-45],[376,-3],[380,-24],[384,10],[388,-36],[392,-2],[396,-45],[354,-12],[358,-40],[362,-2],
  [366,-30],[370,-14],[374,-6],[378,-52],[382,-28],[386,-12],[390,-30],[394,-20],[398,-5],[353,5],
  [359,-18],[365,-25],[371,-35],[377,-20],[383,-2],[389,-8],[395,-30],[400,-12],[357,-60],[363,-40],
  [369,-5],[375,-38],[381,-55],[387,-25],[393,-18],[399,-40],[355,-32],[367,0],[379,-12],[391,-52],
  [401,-3],[403,-18],[405,-30],[407,-8],[409,-22],[411,2],[413,-12],[415,-40],[417,-5],[419,-28],
  [421,-15],[423,-2],[425,-35],[427,-10],[429,-20],[431,-4],[433,-45],[435,-12],[437,-25],[439,-8],
  [441,-18],[443,-3],[404,-50],[410,-38],[416,-20],[422,-55],[428,-30],[434,-2],[440,-38],[402,-10],
  [412,-28],[418,5],[424,-22],[430,-12],[436,-5],[445,-12],[448,-22],[452,-6],[455,-15],[458,-30],
  [282,-18],[286,-4],[290,-22],[294,-35],[298,-12],[303,-6],[307,-42],[311,-18],[315,-1],[319,-10],
  [323,-30],[327,-20],[331,-8],[335,-36],[339,-19],[343,-6],[347,-42],[351,-25],[355,-14],[359,-6],
  [363,-30],[367,-22],[371,-12],[375,-26],[379,-2],[383,-35],[387,-15],[391,-24],[395,-9],[399,-20],
  [403,-30],[407,-14],[411,-22],[415,-10],[419,-18],[423,-32],[427,-6],[431,-26],[272,-25],[276,-12],
  [309,-25],[313,2],[333,-2],[337,-50],[349,-35],[361,-48],[373,-18],[385,-28],[397,-35],[409,-4],
  [419,-45],[301,0],[357,0],[329,-44],[366,-45],
  [221,-10],[224,-25],[227,-5],[230,-18],[233,2],[236,-32],[239,-12],[242,-3],[245,-22],[248,-8],
  [250,5],[252,-14],[254,-30],[256,-5],[258,-20],[260,-10],[262,2],[264,-34],[266,-16],[268,-8],
  [270,-28],[272,0],[274,-12],[276,-38],[278,-20],[280,-4],[282,-10],[284,-30],[286,-20],[288,-45],
  [290,-10],[292,-3],[294,-25],[296,-15],[298,-36],[300,-4],[302,-24],[304,-12],[306,-2],[308,-15],
  [310,-30],[312,-20],[314,-46],[316,-12],[318,-4],[320,-26],[322,-16],[324,-8],[326,-34],[328,-2],
  [330,-28],[332,-12],[334,-22],[336,-6],[338,-40],[340,-18],[342,-10],[344,-28],[346,-36],[348,2],
  [350,-5],[352,-32],[354,-20],[356,-4],[358,-26],[360,-12],[362,-44],[364,-8],[366,-18],[368,-32],
  [370,-2],[372,-22],[374,-14],[376,-36],[378,-8],[380,-16],[382,-42],[384,-24],[386,-4],[388,-18],
  [390,-12],[392,-28],[394,-6],[396,-22],[398,-14],[400,-34],[402,-24],[404,-6],[406,-16],[408,-36],
  [410,-12],[412,-4],[414,-26],[416,-14],[418,-34],[420,-8],[422,-20],[424,-4],[426,-28],[428,-16],
  [430,-36],[432,-10],[434,-22],[436,-30],[438,-15],[440,-4],[442,-28],[444,-10],[446,-4],[450,-14],
  [285,12],[295,10],[305,-1],[315,12],[325,6],[335,4],[345,-8],[355,8],[365,-2],[375,8],
  [385,2],[395,-2],[405,2],[415,-2],[425,4],[435,-20],[300,-50],[320,-58],[340,-44],[360,-52],
  [380,-46],[400,-44],[420,-38],[260,-22],[275,-44],[290,-32],[310,-8],[330,-38],[350,-12],[370,-48],
  [390,-40],[410,-28],[430,-24],[255,-45],[245,-38],[235,-20],[225,5],[268,-52],[283,-40],[298,-58],
  [313,-35],[328,-50],[343,-14],[358,-10],[373,-30],[388,-6],[403,-40],[418,-12],[433,-32],[448,-8],
  [231,-36],[241,-8],[253,-40],[262,-48],[281,-55],[297,-44],[318,-32],[337,-28],[353,-40],[368,-12],
  [383,-22],[398,-46],[413,-48],[427,-42]
];

const BLUE = '#1f77b4';
const MARK = 'rgba(31,119,180,0.65)';
const BAND = 'rgba(31,119,180,0.12)';

const frame = {
  id: 'frame',
  afterDraw(chart) {
    const a = chart.chartArea, ctx = chart.ctx;
    ctx.save();
    ctx.strokeStyle = '#333';
    ctx.lineWidth = 3.5;
    ctx.strokeRect(a.left, a.top, a.right - a.left, a.bottom - a.top);
    ctx.restore();
  }
};

function fmt(v) { return v < 0 ? '\u2212' + Math.abs(v) : String(v); }

function hLine(y, xr, color, width, dash, order) {
  return { data: [{x: xr[0], y: y}, {x: xr[1], y: y}], showLine: true, borderColor: color,
    borderWidth: width, borderDash: dash || [], pointRadius: 0, fill: false, order: order, clip: 0 };
}
function band(b, xr) {
  return { data: [{x: xr[0], y: b[1]}, {x: xr[1], y: b[1]}], showLine: true, borderColor: 'transparent',
    borderWidth: 0, pointRadius: 0, fill: {value: b[0]}, backgroundColor: BAND, order: 3, clip: 0 };
}

function panel(id, d, g) {
  const datasets = [
    { data: d.points.map(p => ({x: p[0], y: p[1]})), pointStyle: 'crossRot', pointRadius: 15.5,
      pointBorderWidth: 3.2, pointBorderColor: MARK, pointBackgroundColor: 'transparent',
      pointHoverRadius: 15.5, showLine: false, order: 0, clip: 0 },
    hLine(0, d.xr, '#262626', 5, [], 2),
    hLine(d.limits[1], d.xr, BLUE, 4, [], 1),
    hLine(d.limits[0], d.xr, BLUE, 4.5, [18, 10], 1),
    hLine(d.limits[2], d.xr, BLUE, 4.5, [18, 10], 1),
    band(d.bands[0], d.xr),
    band(d.bands[1], d.xr)
  ];
  const tickFont = { family: 'DejaVu Sans', size: 32 };
  new Chart(document.getElementById(id), {
    type: 'scatter',
    data: { datasets },
    plugins: [frame],
    options: {
      responsive: true, maintainAspectRatio: false, animation: false, devicePixelRatio: 1,
      layout: { padding: { top: g.top, right: g.right, left: 0, bottom: 0 } },
      plugins: { legend: { display: false }, tooltip: { enabled: false } },
      scales: {
        x: {
          type: 'linear', min: d.xr[0], max: d.xr[1],
          afterBuildTicks: s => { s.ticks = d.xt.map(v => ({value: v})); },
          afterFit: s => { s.height = g.xh; },
          grid: { color: '#b3b3b3', lineWidth: 1.8, tickLength: 10, tickColor: '#333', tickWidth: 2.5 },
          border: { display: false },
          ticks: { autoSkip: false, maxRotation: 0, padding: 6, color: '#222', font: tickFont, callback: fmt },
          title: { display: true, text: d.xtitle, color: '#111',
            font: { family: 'Liberation Sans', size: 80, lineHeight: 1 }, padding: { top: 0, bottom: g.xpad } }
        },
        y: {
          type: 'linear', min: d.yr[0], max: d.yr[1],
          afterBuildTicks: s => { s.ticks = d.yt.map(v => ({value: v})); },
          afterFit: s => { s.width = g.yw; },
          grid: { color: '#b3b3b3', lineWidth: 1.8, tickLength: 10, tickColor: '#333', tickWidth: 2.5 },
          border: { display: false },
          ticks: { autoSkip: false, padding: 10, color: '#222', font: tickFont, callback: fmt },
          title: { display: true, text: d.ytitle, color: '#111',
            font: { family: 'Liberation Sans', size: 80, lineHeight: g.ylh }, padding: { top: g.ypad, bottom: 0 } }
        }
      }
    }
  });
}

panel('ahi',
  { points: ahiPoints, xr: ahiXRange, yr: ahiYRange, xt: ahiXTicks, yt: ahiYTicks, limits: ahiLimits, bands: ahiBands,
    xtitle: 'Manual AHI (events/hour) ', ytitle: ['AHI Model - Manual ', '(diff.) '] },
  { top: 56, right: 29, yw: 355, xh: 187, xpad: 28, ylh: 118 / 80, ypad: 26 });

panel('ai',
  { points: aiPoints, xr: aiXRange, yr: aiYRange, xt: aiXTicks, yt: aiYTicks, limits: aiLimits, bands: aiBands,
    xtitle: 'Manual AI (events/hour) ', ytitle: ['AI Model - Manual ', '(diff.) '] },
  { top: 56, right: 39, yw: 397, xh: 188, xpad: 28, ylh: 114 / 80, ypad: 53 });

panel('tst',
  { points: tstPoints, xr: tstXRange, yr: tstYRange, xt: tstXTicks, yt: tstYTicks, limits: tstLimits, bands: tstBands,
    xtitle: 'Manual TST (min) ', ytitle: ['TST Model - Manual', '(diff.)'] },
  { top: 55, right: 28, yw: 355, xh: 163, xpad: 1, ylh: 118 / 80, ypad: 26 });
</script>
</body>
</html>
